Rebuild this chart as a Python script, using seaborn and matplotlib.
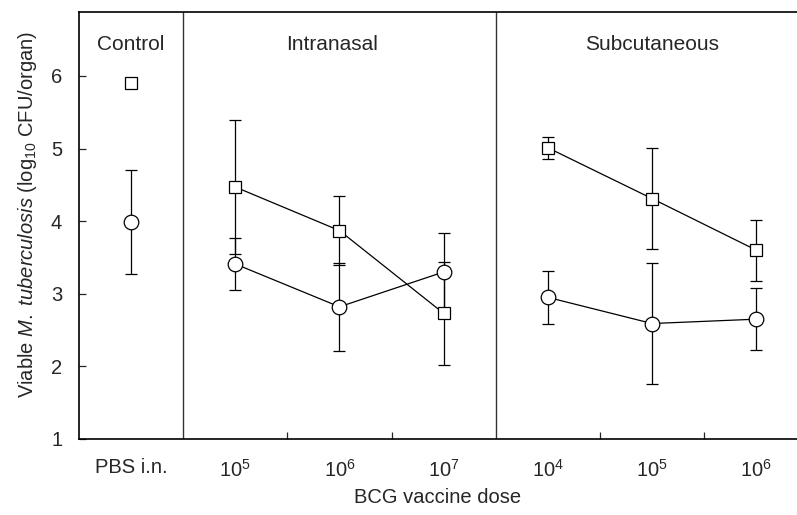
import numpy as np
import pandas as pd
import matplotlib
matplotlib.use('Agg')
from matplotlib import pyplot as plt
import seaborn as sns

sns.set_style('ticks')
plt.rcParams['font.family'] = ['Liberation Sans', 'DejaVu Sans']
plt.rcParams['mathtext.fontset'] = 'custom'
plt.rcParams['mathtext.rm'] = 'Liberation Sans'
plt.rcParams['mathtext.it'] = 'Liberation Sans:italic'

#%% data
dose_labels = ['PBS i.n.', '$10^5$', '$10^6$', '$10^7$', '$10^4$', '$10^5$', '$10^6$']
route = ['Control', 'Intranasal', 'Intranasal', 'Intranasal',
         'Subcutaneous', 'Subcutaneous', 'Subcutaneous']
square_mean = [5.90, 4.47, 3.87, 2.73, 5.01, 4.31, 3.60]
square_err = [0.05, 0.92, 0.48, 0.71, 0.15, 0.70, 0.42]
circle_mean = [3.99, 3.41, 2.82, 3.30, 2.95, 2.59, 2.65]
circle_err = [0.72, 0.36, 0.61, 0.54, 0.36, 0.83, 0.43]

pos = np.arange(len(dose_labels))
df = pd.DataFrame({'pos': pos, 'route': route,
                   'square': square_mean, 'circle': circle_mean})

#%% figure
fig = plt.figure(figsize=(7.97, 5.15), dpi=100)
ax = fig.add_axes([0.099, 0.1476, 0.901, 0.8291])

# error bars behind the markers
for m, e in [(square_mean, square_err), (circle_mean, circle_err)]:
    ax.errorbar(pos, m, yerr=e, fmt='none', ecolor='black', elinewidth=0.9,
                capsize=4.3, capthick=0.9, zorder=2)

sns.lineplot(data=df, x='pos', y='square', units='route', estimator=None,
             color='black', lw=0.9, marker='s', markersize=8,
             markerfacecolor='white', markeredgecolor='black',
             markeredgewidth=0.9, ax=ax, zorder=3)
sns.lineplot(data=df, x='pos', y='circle', units='route', estimator=None,
             color='black', lw=0.9, marker='o', markersize=10.5,
             markerfacecolor='white', markeredgecolor='black',
             markeredgewidth=0.9, ax=ax, zorder=3)

# group separators
for xv in [0.5, 3.5]:
    ax.axvline(xv, color='#333333', lw=1.0, zorder=1)

# group titles
for txt, xc in [('Control', 0), ('Intranasal', 1.93), ('Subcutaneous', 5)]:
    ax.text(xc, 6.43, txt, ha='center', va='center', fontsize=15)

ax.set_xlim(-0.5, 6.39)
ax.set_ylim(1, 6.88)
ax.set_yticks([1, 2, 3, 4, 5, 6])
ax.set_xticks(pos)
ax.set_xticklabels(dose_labels)
ax.set_xticks([1.5, 2.5, 4.5, 5.5], minor=True)
ax.tick_params(axis='x', which='major', length=0, pad=14, labelsize=14.5)
ax.tick_params(axis='x', which='minor', direction='in', length=5, width=0.9)
ax.tick_params(axis='y', direction='in', length=5, width=0.9, pad=12, labelsize=14.5)

ax.set_xlabel('BCG vaccine dose', fontsize=14.5, va='center')
ax.xaxis.set_label_coords(0.5, -0.136)
ax.set_ylabel(r'Viable $\mathit{M.\ tuberculosis}$ (log$_{10}$ CFU/organ)',
              fontsize=14.5, va='center')
ax.yaxis.set_label_coords(-0.072, 0.525)

for s in ['left', 'bottom', 'top']:
    ax.spines[s].set_linewidth(1.2)
    ax.spines[s].set_color('black')
ax.spines['right'].set_visible(False)

fig.savefig('out.png', dpi=100)
